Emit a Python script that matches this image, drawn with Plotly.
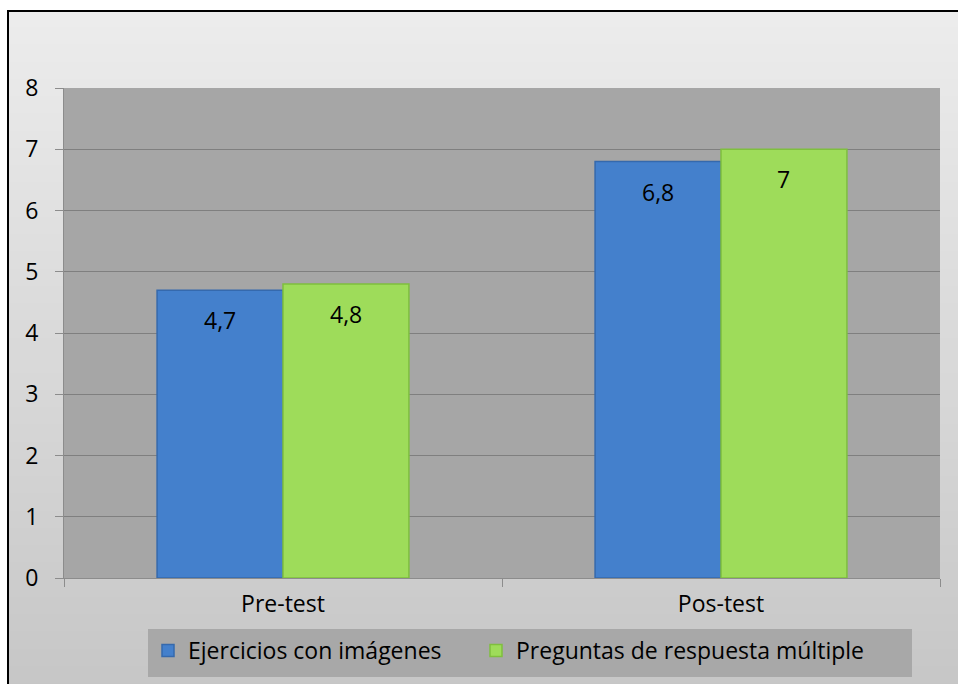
import plotly.graph_objects as go

categories = ["Pre-test", "Pos-test"]
series_names = ["Ejercicios con imágenes", "Preguntas de respuesta múltiple"]
ejercicios = [4.7, 6.8]
preguntas = [4.8, 7.0]
y_ticks = [0, 1, 2, 3, 4, 5, 6, 7, 8]

colors = ["#4480cc", "#9edc5a"]
edge_colors = ["#3569ad", "#7fbf3e"]

W, H = 958, 684
L, R, T, B = 64, 18, 88, 106
pw, ph = W - L - R, H - T - B

def px_x(p):
    return (p - L) / pw

def px_y(p):
    return (H - B - p) / ph

FONT = "Open Sans"
FS = 23

fig = go.Figure()
legend_ids = ["legend", "legend2"]
for name, vals, c, ec, lg in zip(series_names, [ejercicios, preguntas], colors, edge_colors, legend_ids):
    fig.add_trace(go.Bar(
        x=categories, y=vals, name=name, legend=lg,
        marker=dict(color=c, line=dict(color=ec, width=1.5)),
    ))

bargap = 0.425
group = 1 - bargap
nser = 2
annotations = []
for si, vals in enumerate([ejercicios, preguntas]):
    off = -group / 2 + group / nser * (si + 0.5)
    for ci, v in enumerate(vals):
        txt = ("%g" % v).replace(".", ",")
        annotations.append(dict(
            x=ci + off, y=v, xref="x", yref="y", text=txt, showarrow=False,
            yanchor="middle", yshift=-30,
            font=dict(family=FONT, size=FS, color="black"),
        ))

# background gradient bands inside the border
shapes = []
top_px, bot_px = 10, 700
nb = 40
c0, c1 = 236, 198
for i in range(nb):
    a = top_px + (bot_px - top_px) * i / nb
    b = top_px + (bot_px - top_px) * (i + 1) / nb
    g = int(round(c0 + (c1 - c0) * (i + 0.5) / nb))
    shapes.append(dict(type="rect", xref="paper", yref="paper",
                       x0=px_x(7), x1=px_x(990), y0=px_y(a), y1=px_y(b + 1),
                       fillcolor="rgb(%d,%d,%d)" % (g, g, g), line=dict(width=0), layer="below"))
# plot area
shapes.append(dict(type="rect", xref="paper", yref="paper", x0=0, x1=1, y0=0, y1=1,
                   fillcolor="#a6a6a6", line=dict(width=0), layer="below"))
# legend box
shapes.append(dict(type="rect", xref="paper", yref="paper",
                   x0=px_x(148), x1=px_x(912), y0=px_y(629), y1=px_y(677),
                   fillcolor="#a8a8a8", line=dict(width=0), layer="below"))
# outer border
shapes.append(dict(type="rect", xref="paper", yref="paper",
                   x0=px_x(8), x1=px_x(990), y0=px_y(11), y1=px_y(720),
                   fillcolor="rgba(0,0,0,0)", line=dict(color="black", width=2), layer="above"))

legend_common = dict(orientation="h", xanchor="left", yanchor="top",
                     bgcolor="rgba(0,0,0,0)", font=dict(family=FONT, size=FS, color="black"),
                     itemwidth=30, tracegroupgap=0)

fig.update_layout(
    width=W, height=H,
    margin=dict(l=L, r=R, t=T, b=B),
    paper_bgcolor="white",
    plot_bgcolor="#a6a6a6",
    barmode="group", bargap=bargap, bargroupgap=0,
    font=dict(family=FONT, size=FS, color="black"),
    showlegend=True,
    legend=dict(x=px_x(148), y=px_y(629), **legend_common),
    legend2=dict(x=px_x(476), y=px_y(629), **legend_common),
    shapes=shapes,
    annotations=annotations,
    xaxis=dict(tickson="boundaries", ticks="outside", ticklen=8, tickcolor="#8c8c8c",
               showline=True, linecolor="#8c8c8c", linewidth=1, showgrid=False,
               ticklabelstandoff=5,
               tickfont=dict(family=FONT, size=FS, color="black")),
    yaxis=dict(range=[0, 8], tickvals=y_ticks, ticks="outside", ticklen=8, tickcolor="#8c8c8c",
               showline=True, linecolor="#8c8c8c", linewidth=1, showgrid=True,
               gridcolor="#7f7f7f", gridwidth=1, zeroline=False, ticklabelstandoff=12,
               tickfont=dict(family=FONT, size=FS, color="black")),
)

fig.write_html("out.html")
